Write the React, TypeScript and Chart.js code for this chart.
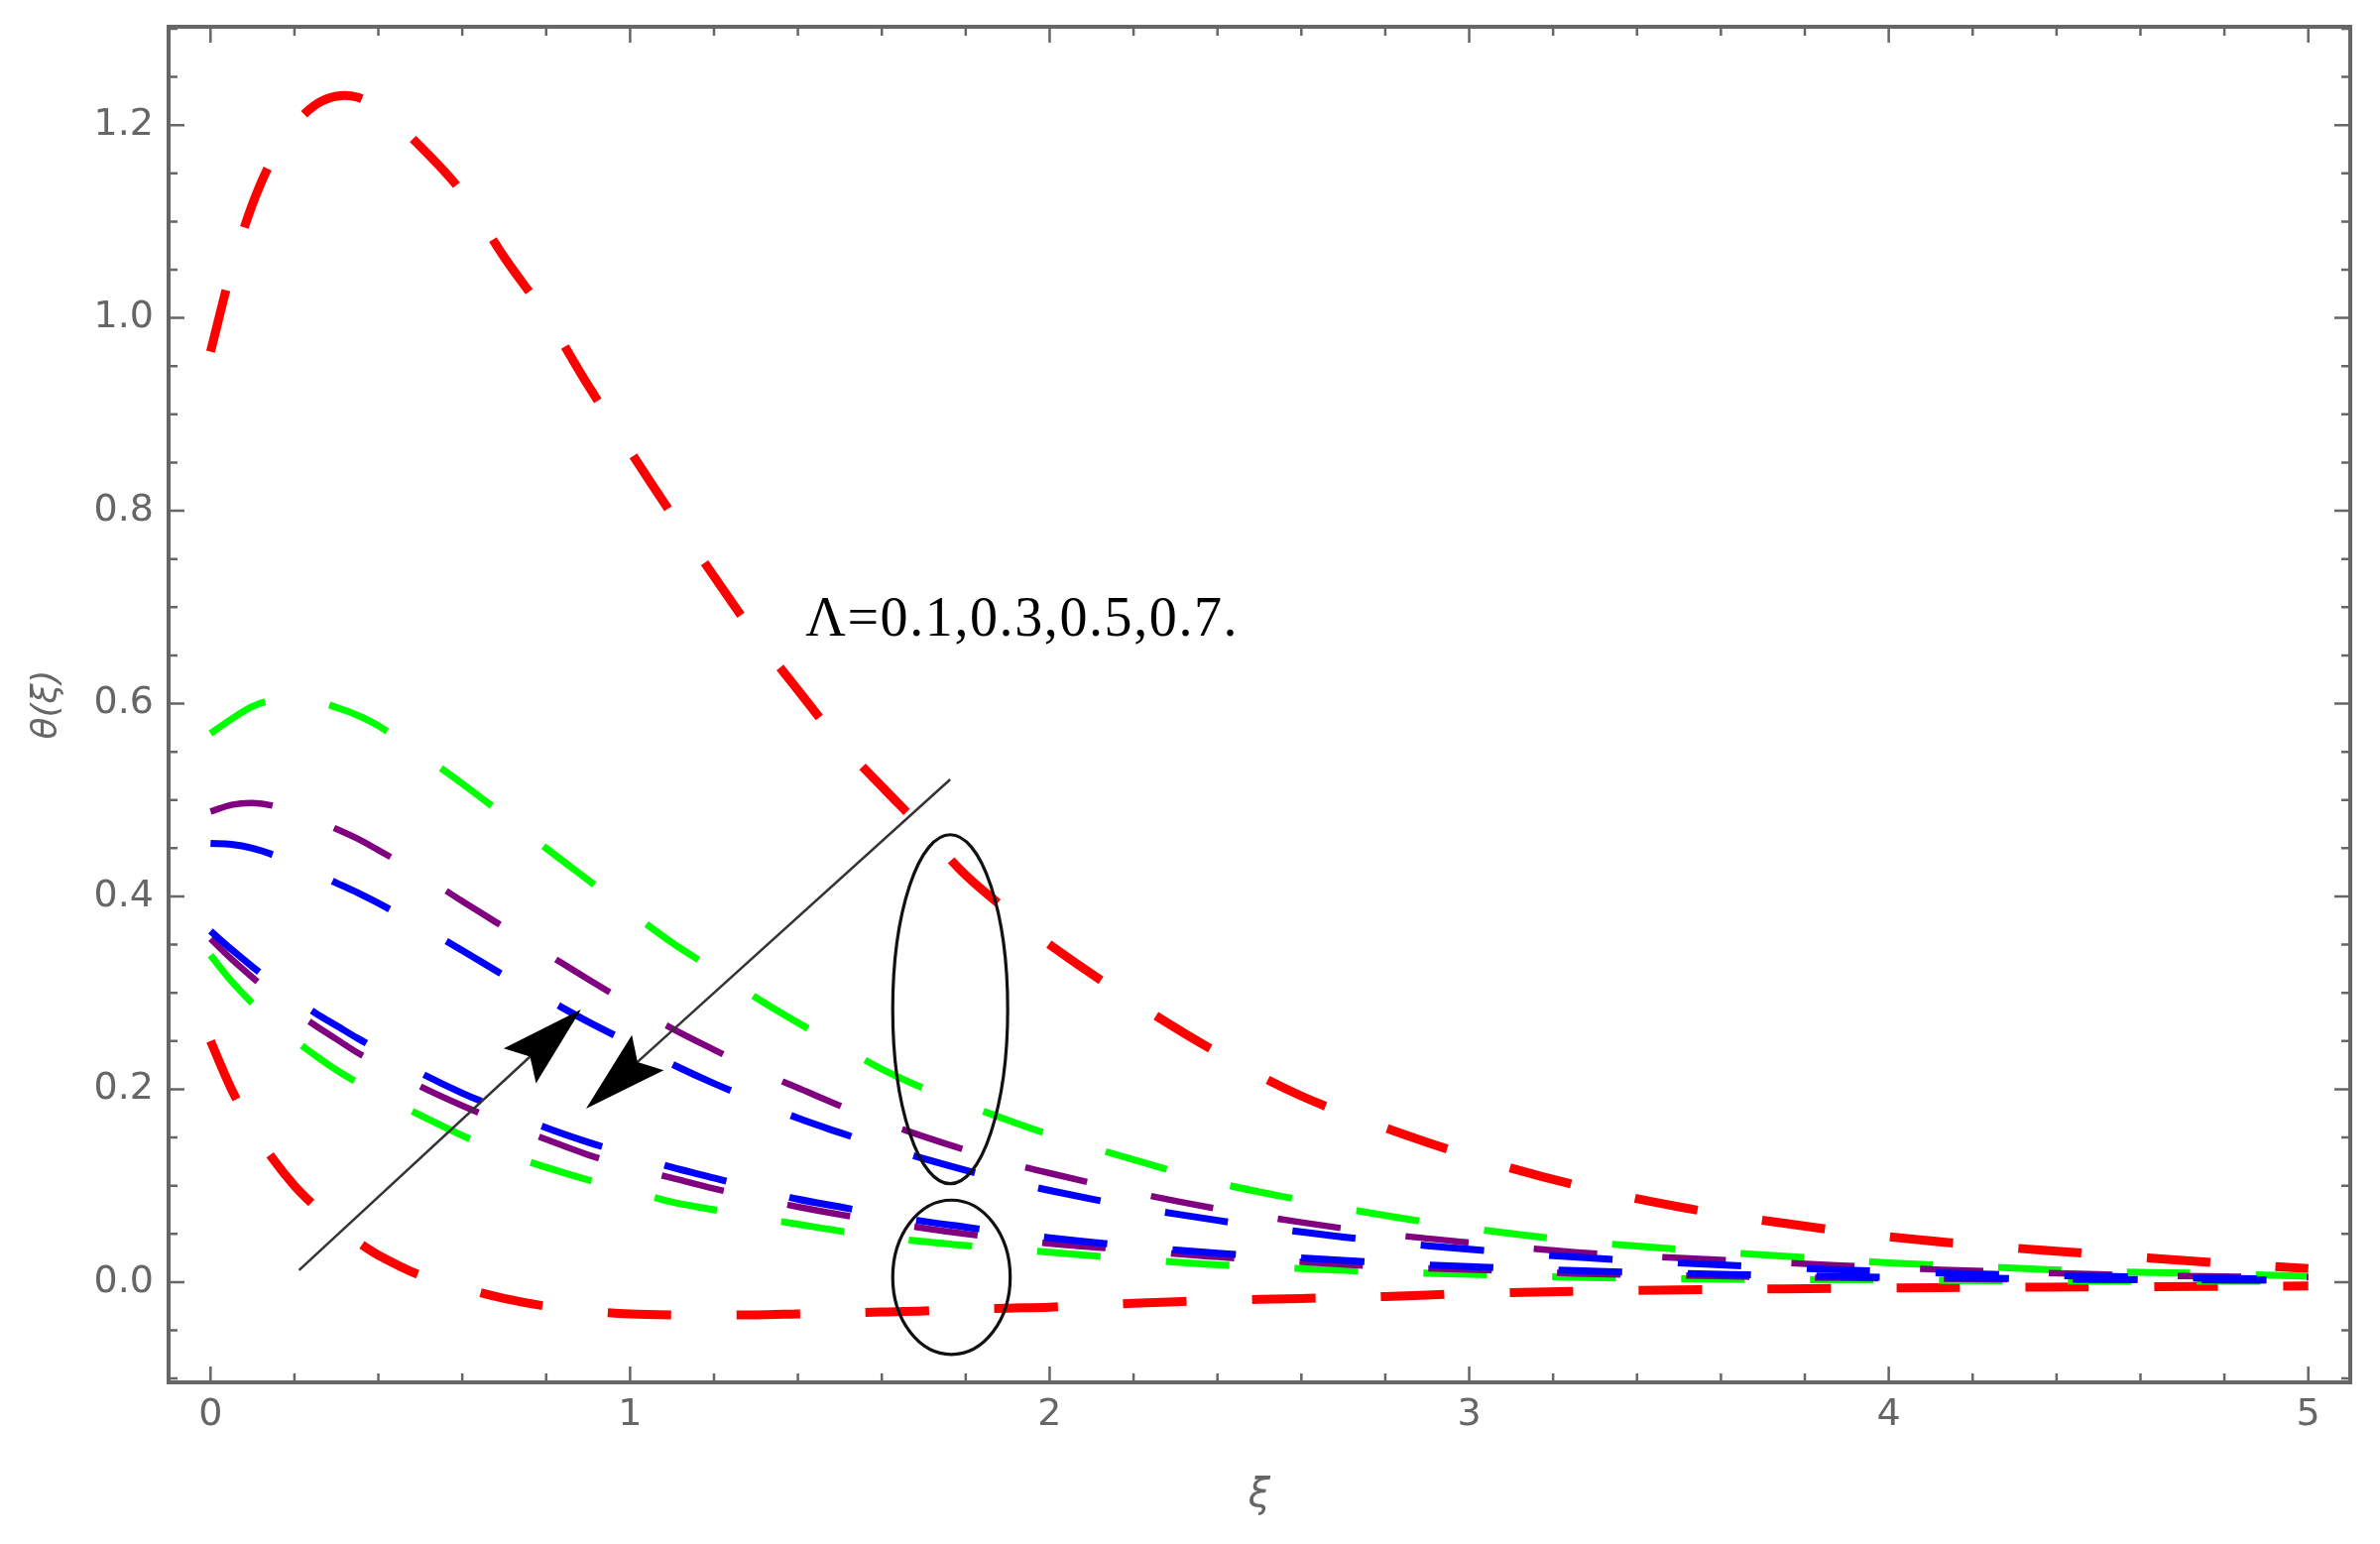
import React, { useEffect, useRef } from 'react';
import { Chart, registerables } from 'chart.js';

Chart.register(...registerables);

// ---------- data ----------
const xi = [0, 0.05, 0.1, 0.15, 0.2, 0.25, 0.3, 0.35, 0.4, 0.5, 0.6, 0.7, 0.8, 0.9, 1.0, 1.1, 1.2, 1.3, 1.4, 1.5, 1.6, 1.7, 1.8, 1.9, 2.0, 2.2, 2.4, 2.6, 2.8, 3.0, 3.25, 3.5, 3.75, 4.0, 4.25, 4.5, 4.75, 5.0];

const redUpper = [0.965, 1.05, 1.118, 1.167, 1.2, 1.221, 1.23, 1.229, 1.217, 1.178, 1.13, 1.063, 1.002, 0.93, 0.862, 0.796, 0.732, 0.67, 0.614, 0.56, 0.514, 0.469, 0.422, 0.385, 0.35, 0.291, 0.238, 0.193, 0.16, 0.131, 0.101, 0.078, 0.061, 0.047, 0.037, 0.029, 0.021, 0.014];
const greenUpper = [0.569, 0.584, 0.597, 0.604, 0.606, 0.603, 0.596, 0.588, 0.577, 0.548, 0.517, 0.484, 0.45, 0.417, 0.384, 0.352, 0.324, 0.295, 0.269, 0.245, 0.221, 0.201, 0.184, 0.168, 0.153, 0.127, 0.103, 0.085, 0.069, 0.056, 0.043, 0.034, 0.027, 0.02, 0.0155, 0.011, 0.009, 0.006];
const purpleUpper = [0.488, 0.495, 0.497, 0.494, 0.487, 0.479, 0.47, 0.46, 0.448, 0.423, 0.395, 0.368, 0.341, 0.314, 0.288, 0.263, 0.241, 0.22, 0.2015, 0.183, 0.166, 0.151, 0.137, 0.124, 0.113, 0.093, 0.076, 0.062, 0.05, 0.041, 0.031, 0.025, 0.02, 0.015, 0.011, 0.008, 0.006, 0.005];
const blueUpper = [0.455, 0.454, 0.45, 0.443, 0.434, 0.424, 0.414, 0.404, 0.393, 0.369, 0.344, 0.318, 0.294, 0.27, 0.248, 0.226, 0.206, 0.188, 0.17, 0.155, 0.141, 0.128, 0.116, 0.105, 0.095, 0.078, 0.064, 0.052, 0.042, 0.034, 0.026, 0.02, 0.015, 0.011, 0.008, 0.006, 0.004, 0.003];

const redLower = [0.25, 0.2, 0.16, 0.127, 0.1, 0.078, 0.058, 0.042, 0.028, 0.007, -0.006, -0.017, -0.025, -0.03, -0.033, -0.034, -0.034, -0.034, -0.033, -0.032, -0.031, -0.03, -0.028, -0.027, -0.026, -0.022, -0.019, -0.017, -0.015, -0.012, -0.0095, -0.008, -0.007, -0.006, -0.0055, -0.005, -0.0045, -0.004];
const greenLower = [0.339, 0.312, 0.289, 0.269, 0.251, 0.235, 0.22, 0.207, 0.195, 0.173, 0.152, 0.134, 0.119, 0.106, 0.095, 0.083, 0.075, 0.067, 0.06, 0.053, 0.047, 0.042, 0.038, 0.034, 0.031, 0.024, 0.018, 0.014, 0.0105, 0.008, 0.005, 0.0035, 0.0025, 0.002, 0.0015, 0.001, 0.001, 0.001];
const purpleLower = [0.356, 0.335, 0.316, 0.298, 0.281, 0.266, 0.252, 0.238, 0.226, 0.203, 0.183, 0.165, 0.148, 0.132, 0.119, 0.108, 0.097, 0.087, 0.078, 0.07, 0.063, 0.056, 0.05, 0.045, 0.04, 0.033, 0.026, 0.021, 0.016, 0.013, 0.009, 0.007, 0.005, 0.004, 0.003, 0.0025, 0.002, 0.002];
const blueLower = [0.364, 0.345, 0.327, 0.31, 0.294, 0.279, 0.266, 0.253, 0.241, 0.217, 0.196, 0.178, 0.16, 0.145, 0.132, 0.119, 0.108, 0.097, 0.086, 0.078, 0.07, 0.063, 0.057, 0.051, 0.046, 0.037, 0.03, 0.025, 0.02, 0.016, 0.012, 0.009, 0.007, 0.005, 0.004, 0.003, 0.0025, 0.002];

const xTickValues = [0, 1, 2, 3, 4, 5];
const xTickLabels = ['0', '1', '2', '3', '4', '5'];
const yTickValues = [0, 0.2, 0.4, 0.6, 0.8, 1.0, 1.2];
const yTickLabels = ['0.0', '0.2', '0.4', '0.6', '0.8', '1.0', '1.2'];

const xAxisTitle = 'ξ';
const yAxisTitle = 'θ(ξ)';
const annotationText = 'Λ=0.1,0.3,0.5,0.7.';

// ---------- styling / layout ----------
const X_MIN = -0.1;
const X_MAX = 5.1;
const Y_MIN = -0.104;
const Y_MAX = 1.302;
const FRAME = '#666666';
const DASH = [64, 66];

const toPoints = (ys: number[]) => ys.map((y, i) => ({ x: xi[i], y }));

const mkDataset = (label: string, ys: number[], color: string, width: number) => ({
  label,
  data: toPoints(ys),
  borderColor: color,
  backgroundColor: color,
  borderWidth: width,
  borderDash: DASH,
  borderCapStyle: 'butt' as const,
  pointRadius: 0,
  fill: false,
  tension: 0.35,
});

// Frame with inward ticks on all four sides
const framePlugin = {
  id: 'frameTicks',
  afterDraw(chart: any) {
    const { ctx, chartArea: a, scales } = chart;
    const xs = scales.x;
    const ys = scales.y;
    ctx.save();
    ctx.strokeStyle = FRAME;
    ctx.lineWidth = 2.5;
    ctx.lineCap = 'butt';
    const major = 16;
    const minor = 9;
    for (let k = -1; k <= 26; k++) {
      const v = Math.round(k * 0.2 * 1000) / 1000;
      if (v < X_MIN || v > X_MAX) continue;
      const isMajor = Math.abs(v - Math.round(v)) < 1e-6;
      const len = isMajor ? major : minor;
      const p = xs.getPixelForValue(v);
      ctx.beginPath();
      ctx.moveTo(p, a.bottom);
      ctx.lineTo(p, a.bottom - len);
      ctx.moveTo(p, a.top);
      ctx.lineTo(p, a.top + len);
      ctx.stroke();
    }
    for (let k = -2; k <= 26; k++) {
      const v = Math.round(k * 0.05 * 1000) / 1000;
      if (v < Y_MIN || v > Y_MAX) continue;
      const isMajor = Math.abs(v / 0.2 - Math.round(v / 0.2)) < 1e-6;
      const len = isMajor ? major : minor;
      const p = ys.getPixelForValue(v);
      ctx.beginPath();
      ctx.moveTo(a.left, p);
      ctx.lineTo(a.left + len, p);
      ctx.moveTo(a.right, p);
      ctx.lineTo(a.right - len, p);
      ctx.stroke();
    }
    ctx.lineWidth = 4;
    ctx.strokeRect(a.left, a.top, a.right - a.left, a.bottom - a.top);
    ctx.restore();
  },
};

// Annotations: ellipses, arrows and the parameter text (in data coordinates)
const ellipses = [
  { cx: 1.763, cy: 0.283, rx: 0.137, ry: 0.181 },
  { cx: 1.766, cy: 0.005, rx: 0.14, ry: 0.08 },
];
const arrows = [
  { x0: 0.211, y0: 0.0123, x1: 0.883, y1: 0.2828 },
  { x0: 1.763, y0: 0.5213, x1: 0.895, y1: 0.18 },
];
const textPos = { x: 1.418, y: 0.6704 };

const annotationPlugin = {
  id: 'annotations',
  afterDatasetsDraw(chart: any) {
    const { ctx, scales } = chart;
    const px = (v: number) => scales.x.getPixelForValue(v);
    const py = (v: number) => scales.y.getPixelForValue(v);
    ctx.save();
    ctx.strokeStyle = '#111111';
    ctx.lineWidth = 3.2;
    ctx.setLineDash([]);
    for (const e of ellipses) {
      const cx = px(e.cx);
      const cy = py(e.cy);
      const rx = Math.abs(px(e.cx + e.rx) - cx);
      const ry = Math.abs(py(e.cy + e.ry) - cy);
      ctx.beginPath();
      ctx.ellipse(cx, cy, rx, ry, 0, 0, Math.PI * 2);
      ctx.stroke();
    }
    const L = 84;
    const W = 24;
    const N = 14;
    for (const ar of arrows) {
      const sx = px(ar.x0);
      const sy = py(ar.y0);
      const tx = px(ar.x1);
      const ty = py(ar.y1);
      const len = Math.hypot(tx - sx, ty - sy);
      const dx = (tx - sx) / len;
      const dy = (ty - sy) / len;
      const nx = -dy;
      const ny = dx;
      ctx.strokeStyle = '#333333';
      ctx.lineWidth = 2.5;
      ctx.beginPath();
      ctx.moveTo(sx, sy);
      ctx.lineTo(tx - (L - N) * dx, ty - (L - N) * dy);
      ctx.stroke();
      ctx.fillStyle = '#000000';
      ctx.beginPath();
      ctx.moveTo(tx, ty);
      ctx.lineTo(tx - L * dx + W * nx, ty - L * dy + W * ny);
      ctx.lineTo(tx - (L - N) * dx, ty - (L - N) * dy);
      ctx.lineTo(tx - L * dx - W * nx, ty - L * dy - W * ny);
      ctx.closePath();
      ctx.fill();
    }
    ctx.fillStyle = '#000000';
    ctx.font = '56px "Liberation Serif", "Times New Roman", serif';
    (ctx as any).letterSpacing = '1.6px';
    ctx.textAlign = 'left';
    ctx.textBaseline = 'alphabetic';
    ctx.fillText(annotationText, px(textPos.x), py(textPos.y));
    ctx.restore();
  },
};

export default function App() {
  const canvasRef = useRef<HTMLCanvasElement>(null);

  useEffect(() => {
    if (!canvasRef.current) return;
    const chart = new Chart(canvasRef.current, {
      type: 'line',
      data: {
        datasets: [
          mkDataset('blue upper', blueUpper, '#0000ff', 7),
          mkDataset('blue lower', blueLower, '#0000ff', 7),
          mkDataset('purple upper', purpleUpper, '#800080', 6.5),
          mkDataset('purple lower', purpleLower, '#800080', 6.5),
          mkDataset('green upper', greenUpper, '#00ff00', 7),
          mkDataset('green lower', greenLower, '#00ff00', 7),
          mkDataset('red upper', redUpper, '#ff0000', 9),
          mkDataset('red lower', redLower, '#ff0000', 9),
        ],
      },
      options: {
        animation: false,
        responsive: false,
        devicePixelRatio: 1,
        layout: { padding: { left: 0, top: 27, right: 30, bottom: 0 } },
        plugins: {
          legend: { display: false },
          tooltip: { enabled: false },
        },
        scales: {
          x: {
            type: 'linear',
            min: X_MIN,
            max: X_MAX,
            grid: { display: false, drawTicks: false },
            border: { display: false },
            afterBuildTicks: (s: any) => {
              s.ticks = xTickValues.map((v) => ({ value: v }));
            },
            afterFit: (s: any) => {
              s.height = 163;
              s.paddingLeft = 0;
              s.paddingRight = 0;
            },
            ticks: {
              autoSkip: false,
              maxRotation: 0,
              padding: 10,
              color: '#666666',
              font: { family: 'DejaVu Sans', size: 38 },
              callback: (v: any) => {
                const i = xTickValues.indexOf(Number(v));
                return i >= 0 ? xTickLabels[i] : '';
              },
            },
            title: {
              display: true,
              text: xAxisTitle,
              color: '#666666',
              font: { family: 'DejaVu Sans', size: 40, style: 'italic' },
              padding: { top: 0, bottom: 24 },
            },
          },
          y: {
            type: 'linear',
            min: Y_MIN,
            max: Y_MAX,
            grid: { display: false, drawTicks: false },
            border: { display: false },
            afterBuildTicks: (s: any) => {
              s.ticks = yTickValues.map((v) => ({ value: v }));
            },
            afterFit: (s: any) => {
              s.width = 170;
              s.paddingTop = 0;
              s.paddingBottom = 0;
            },
            ticks: {
              autoSkip: false,
              padding: 15,
              color: '#666666',
              font: { family: 'DejaVu Sans', size: 38 },
              callback: (v: any) => {
                const i = yTickValues.findIndex((t) => Math.abs(t - Number(v)) < 1e-9);
                return i >= 0 ? yTickLabels[i] : '';
              },
            },
            title: {
              display: true,
              text: yAxisTitle,
              color: '#666666',
              font: { family: 'DejaVu Sans', size: 36, style: 'italic' },
              padding: { top: 26, bottom: 0 },
            },
          },
        },
      },
      plugins: [framePlugin, annotationPlugin],
    });
    return () => chart.destroy();
  }, []);

  return (
    <div style={{ position: 'absolute', left: 0, top: 0, width: 2400, height: 1557, background: '#ffffff' }}>
      <canvas ref={canvasRef} width={2400} height={1557} style={{ display: 'block', width: 2400, height: 1557 }} />
    </div>
  );
}
